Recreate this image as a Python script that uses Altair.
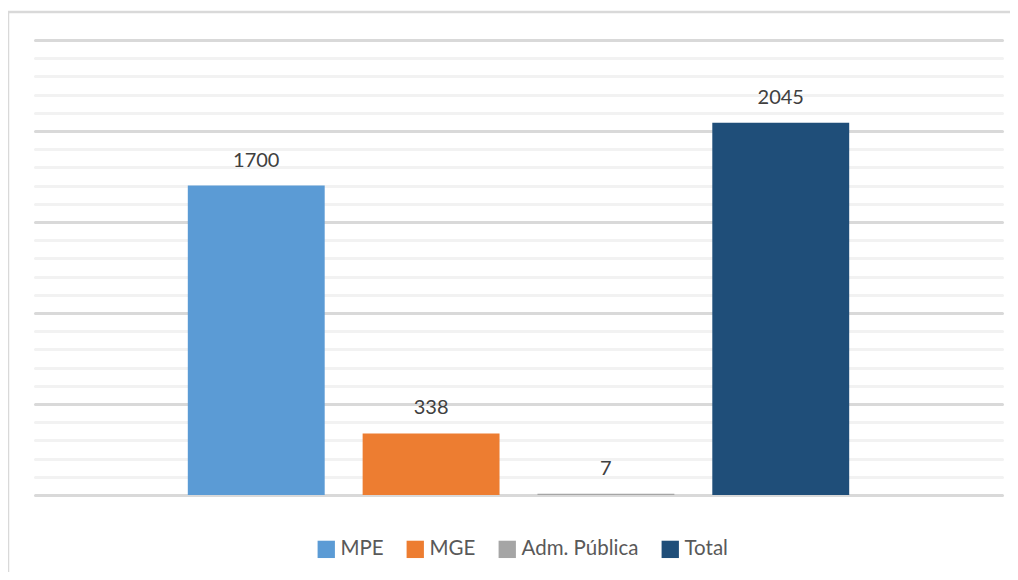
import altair as alt
import pandas as pd

categories = ["MPE", "MGE", "Adm. Pública", "Total"]
values = [1700, 338, 7, 2045]
colors = ["#5b9bd5", "#ed7d31", "#a5a5a5", "#1f4e79"]
grid_values = list(range(0, 2600, 100))

df = pd.DataFrame({"cat": categories, "val": values})

FONT = "Lato"

x = alt.X("cat:N", sort=categories, axis=None,
          scale=alt.Scale(paddingInner=0.217, paddingOuter=0.874))
y = alt.Y("val:Q", scale=alt.Scale(domain=[0, 2500], nice=False),
          axis=alt.Axis(values=grid_values, tickCount=40, grid=True,
                        gridColor=alt.ExprRef(expr="datum.value % 500 === 0 ? '#d9d9d9' : '#f2f2f2'"),
                        gridWidth=3, gridCap="round", labels=False, ticks=False,
                        domain=False, title=None))

bars = alt.Chart(df).mark_bar().encode(
    x=x, y=y,
    color=alt.Color("cat:N", sort=categories,
                    scale=alt.Scale(domain=categories, range=colors),
                    legend=alt.Legend(title=None, orient="none", direction="horizontal",
                                      legendX=281, legendY=499, symbolType="square",
                                      symbolSize=300, symbolStrokeWidth=0,
                                      labelFont=FONT, labelFontSize=20.5, labelColor="#595959",
                                      labelOffset=4, columnPadding=21, padding=0))
)

labels = alt.Chart(df).mark_text(baseline="bottom", dy=-15, fontSize=20, font=FONT,
                                 color="#404040").encode(
    x=x, y=alt.Y("val:Q"), text=alt.Text("val:Q")
)

frame = alt.Chart(alt.Data(values=[{"a": 1}])).mark_rect(
    fillOpacity=0, stroke="#d9d9d9", strokeWidth=2.5
).encode(x=alt.value(-27), x2=alt.value(1100), y=alt.value(-28), y2=alt.value(700))

chart = alt.layer(frame, bars, labels).properties(
    width=967, height=455,
    autosize=alt.AutoSizeParams(type="none"),
    padding={"left": 27, "top": 32, "right": 8, "bottom": 77},
).configure_view(stroke=None)

chart.save("out.html", embed_options={"renderer": "svg", "actions": False})
